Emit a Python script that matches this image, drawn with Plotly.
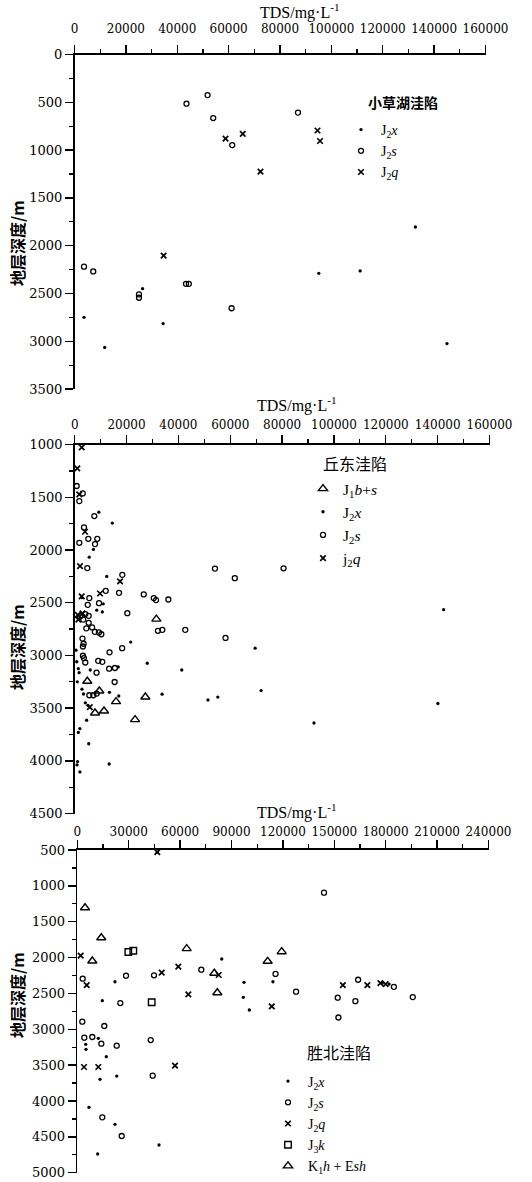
import plotly.graph_objects as go

# ===================== DATA =====================
# Panel 1: 小草湖洼陷  (TDS mg/L, depth m)
xc_j2x_tds = [26500, 3700, 11750, 34500, 95100, 111200, 132700, 145000]
xc_j2x_dep = [2450, 2750, 3065, 2815, 2290, 2265, 1805, 3025]
xc_j2s_tds = [43600, 51800, 54000, 87000, 61400, 3700, 7300, 25100, 25100, 43400, 44500, 61150]
xc_j2s_dep = [515, 425, 665, 608, 948, 2220, 2270, 2510, 2545, 2400, 2400, 2655]
xc_j2q_tds = [58800, 65500, 72400, 94600, 95600, 34700]
xc_j2q_dep = [880, 830, 1225, 795, 905, 2105]

# Panel 2: 丘东洼陷
qd_j1bs_tds = [31500, 4860, 9500, 15940, 27250, 23280, 7840, 11310]
qd_j1bs_dep = [2655, 3245, 3337, 3438, 3394, 3609, 3546, 3527]
qd_j2x_tds = [9300, 14500, 7200, 5600, 12350, 11000, 8500, 10650, 142300, 28000, 41300,
              51400, 55200, 71900, 33700, 140100, 92300, 69600, 21600, 17000, 1400, 5400,
              1100, 900, 2000, 13300, 1700, 2800, 3400, 4100, 5100, 6000, 1400, 2700,
              16800, 500, 800, 1000, 13400, 4600, 2000]
qd_j2x_dep = [1640, 1744, 1994, 2067, 2250, 2510, 2570, 2587, 2566, 3074, 3138,
              3423, 3395, 3333, 3368, 3456, 3641, 2931, 2873, 3385, 3731, 3838,
              4007, 4039, 4105, 4030, 3164, 3320, 3366, 3450, 3473, 3138, 3126, 2451,
              3109, 2950, 3060, 3250, 3350, 3615, 3694]
qd_j2s_tds = [770, 3090, 1780, 7570, 3590, 5250, 8720, 7840, 1780, 4860, 18370, 11970,
              17100, 26630, 30500, 31380, 36130, 5640, 5020, 9380, 20300, 54100, 61760,
              80560, 42650, 58170, 32100, 33800, 13430, 18300, 15400, 9070, 10650, 13280,
              15520, 8420, 3000, 3430, 3170, 3170, 3550, 4090, 2080, 4090, 5400, 3300,
              5400, 4480, 6720, 7760, 9340, 10270, 5640, 7180, 8490]
qd_j2s_dep = [1392, 1462, 1535, 1677, 1785, 1893, 1893, 1943, 1931, 2171, 2235, 2387,
              2406, 2421, 2456, 2475, 2469, 2456, 2520, 2504, 2599, 2176, 2267,
              2173, 2757, 2834, 2766, 2757, 2970, 2931, 3252, 3051, 3061, 3126,
              3119, 3164, 2840, 2889, 2915, 3003, 3025, 3067, 2630, 2607, 2624, 2660,
              2690, 2743, 2734, 2776, 2782, 2799, 3378, 3378, 3362]
qd_j2q_tds = [2700, 1000, 1780, 3980, 2050, 17500, 9770, 2700, 1200, 3000, 1400, 5800]
qd_j2q_dep = [1025, 1224, 1471, 1826, 2152, 2298, 2412, 2440, 2615, 2600, 2660, 3490]

# Panel 3: 胜北洼陷
sb_j2x_tds = [22000, 14590, 97300, 96900, 100400, 84300, 114200, 12260, 4900, 5080, 16930,
              13250, 47690, 11900, 23000, 6830, 22000, 46700, 178000, 182000]
sb_j2x_dep = [2337, 2601, 2345, 2554, 2731, 2020, 2337, 3126, 3210, 3279, 3382,
              3698, 4614, 4739, 3652, 4088, 4325, 530, 2356, 2370]
sb_j2s_tds = [3150, 28430, 44770, 72380, 25100, 2920, 15760, 4090, 8760, 14010, 23000,
              42840, 44010, 14590, 25910, 144000, 115700, 127700, 163900, 184800, 195800,
              152000, 162300, 152400]
sb_j2s_dep = [2295, 2253, 2247, 2169, 2634, 2894, 2954, 3117, 3108, 3201, 3229,
              3150, 3647, 4228, 4488, 1095, 2228, 2475, 2309, 2408, 2551,
              2560, 2608, 2836]
sb_j2q_tds = [46700, 1980, 5490, 49260, 58950, 82530, 64790, 113500, 155000, 169300,
              3910, 12260, 57030, 176900, 180000]
sb_j2q_dep = [530, 1974, 2383, 2211, 2127, 2243, 2512, 2680, 2384, 2384,
              3526, 3526, 3508, 2356, 2370]
sb_j3k_tds = [29770, 32690, 43430]
sb_j3k_dep = [1922, 1904, 2624]
sb_k1h_tds = [4490, 14000, 63860, 111100, 119300, 8760, 79970, 81720]
sb_k1h_dep = [1305, 1723, 1876, 2052, 1918, 2048, 2219, 2490]

x_ticks_a = [0, 20000, 40000, 60000, 80000, 100000, 120000, 140000, 160000]
x_ticks_c = [0, 30000, 60000, 90000, 120000, 150000, 180000, 210000, 240000]

# ===================== LAYOUT HELPERS =====================
W, H = 532, 1182
def fx(px): return px / W
def fy(py): return 1 - py / H

DOT = dict(symbol="circle", size=3.3, color="black")
CIR = dict(symbol="circle-open", size=5, color="black", line=dict(width=1.3, color="black"))
XQ = dict(symbol="x-thin-open", size=5.5, color="black", line=dict(width=1.7, color="black"))
SQ = dict(symbol="square-open", size=6.5, color="black", line=dict(width=1.4, color="black"))
TRI = dict(symbol="triangle-up-open", size=8, color="black", line=dict(width=1.4, color="black"))

fig = go.Figure()

def add(x, y, marker, name, xa, ya, leg):
    fig.add_trace(go.Scatter(x=x, y=y, mode="markers", marker=marker, name=name,
                             xaxis=xa, yaxis=ya, legend=leg, cliponaxis=False,
                             showlegend=True))

add(xc_j2x_tds, xc_j2x_dep, DOT, "J<sub>2</sub><i>x</i>", "x", "y", "legend")
add(xc_j2s_tds, xc_j2s_dep, CIR, "J<sub>2</sub><i>s</i>", "x", "y", "legend")
add(xc_j2q_tds, xc_j2q_dep, XQ, "J<sub>2</sub><i>q</i>", "x", "y", "legend")

add(qd_j1bs_tds, qd_j1bs_dep, TRI, "J<sub>1</sub><i>b</i>+<i>s</i>", "x2", "y2", "legend2")
add(qd_j2x_tds, qd_j2x_dep, DOT, "J<sub>2</sub><i>x</i>", "x2", "y2", "legend2")
add(qd_j2s_tds, qd_j2s_dep, CIR, "J<sub>2</sub><i>s</i>", "x2", "y2", "legend2")
add(qd_j2q_tds, qd_j2q_dep, XQ, "j<sub>2</sub><i>q</i>", "x2", "y2", "legend2")

add(sb_j2x_tds, sb_j2x_dep, DOT, "J<sub>2</sub><i>x</i>", "x3", "y3", "legend3")
add(sb_j2s_tds, sb_j2s_dep, CIR, "J<sub>2</sub><i>s</i>", "x3", "y3", "legend3")
add(sb_j2q_tds, sb_j2q_dep, XQ, "J<sub>2</sub><i>q</i>", "x3", "y3", "legend3")
add(sb_j3k_tds, sb_j3k_dep, SQ, "J<sub>3</sub><i>k</i>", "x3", "y3", "legend3")
add(sb_k1h_tds, sb_k1h_dep, TRI, "K<sub>1</sub><i>h</i> + E<i>sh</i>", "x3", "y3", "legend3")

TICKFONT_X = dict(family="DejaVu Serif", size=12, color="black")
TICKFONT_Y = dict(family="DejaVu Serif", size=13, color="black")

def xax(domain, rng, ticks, minor, anchor, standoff):
    return dict(domain=domain, range=rng, side="top", anchor=anchor,
                showline=True, linecolor="black", linewidth=1.6,
                ticks="outside", ticklen=8, tickwidth=1.4, tickcolor="black",
                tickvals=ticks, ticktext=[str(t) for t in ticks],
                minor=dict(dtick=minor, tick0=0, ticks="outside", ticklen=4,
                           tickwidth=1.2, tickcolor="black", showgrid=False),
                showgrid=False, zeroline=False, tickfont=TICKFONT_X, tickangle=0,
                ticklabelstandoff=standoff, automargin=False, fixedrange=True)

def yax(domain, rng, anchor):
    return dict(domain=domain, range=rng, anchor=anchor,
                showline=True, linecolor="black", linewidth=1.6,
                ticks="outside", ticklen=8, tickwidth=1.4, tickcolor="black",
                dtick=500, tick0=0,
                minor=dict(dtick=250, tick0=0, ticks="outside", ticklen=4,
                           tickwidth=1.2, tickcolor="black", showgrid=False),
                showgrid=False, zeroline=False, tickfont=TICKFONT_Y,
                automargin=False, fixedrange=True)

fig.update_layout(
    width=W, height=H, margin=dict(l=0, r=0, t=0, b=0),
    paper_bgcolor="white", plot_bgcolor="rgba(0,0,0,0)",
    xaxis=xax([fx(74.5), fx(485.5)], [0, 160000], x_ticks_a, 10000, "y", 7),
    yaxis=yax([fy(389), fy(54.5)], [3500, 0], "x"),
    xaxis2=xax([fx(74.7), fx(489.5)], [0, 160000], x_ticks_a, 10000, "y2", 1),
    yaxis2=yax([fy(813.5), fy(444.7)], [4500, 1000], "x2"),
    xaxis3=xax([fx(77.3), fx(488.5)], [0, 240000], x_ticks_c, 15000, "y3", 0),
    yaxis3=yax([fy(1172.7), fy(850)], [5000, 500], "x3"),
    legend=dict(x=fx(341), y=fy(114), xanchor="left", yanchor="top",
                bgcolor="rgba(0,0,0,0)", borderwidth=0,
                font=dict(family="Liberation Serif", size=14, color="black")),
    legend2=dict(x=fx(303), y=fy(472), xanchor="left", yanchor="top",
                 bgcolor="rgba(0,0,0,0)", borderwidth=0,
                 font=dict(family="Liberation Serif", size=15.5, color="black")),
    legend3=dict(x=fx(268), y=fy(1065.5), xanchor="left", yanchor="top",
                 bgcolor="rgba(0,0,0,0)", borderwidth=0,
                 font=dict(family="Liberation Serif", size=14, color="black")),
)

TITLE_FONT = dict(family="Liberation Serif", size=16, color="black")
CJK_FONT = dict(family="Noto Sans CJK SC", size=16, color="black")

annots = []
for (cx, cy) in [(300, 11), (297, 404), (297, 811)]:
    annots.append(dict(text="TDS/mg·L<sup>-1</sup>", x=fx(cx), y=fy(cy), xref="paper",
                       yref="paper", xanchor="center", yanchor="middle",
                       showarrow=False, font=TITLE_FONT))
for cy in [243, 647, 995]:
    annots.append(dict(text="<b>地层深度/m</b>", x=fx(17), y=fy(cy), xref="paper",
                       yref="paper", xanchor="center", yanchor="middle",
                       textangle=-90, showarrow=False, font=CJK_FONT))
annots.append(dict(text="<b>小草湖洼陷</b>", x=fx(403), y=fy(102), xref="paper", yref="paper",
                   xanchor="center", yanchor="middle", showarrow=False,
                   font=dict(family="Noto Sans CJK SC", size=14, color="black")))
annots.append(dict(text="丘东洼陷", x=fx(355), y=fy(463), xref="paper", yref="paper",
                   xanchor="center", yanchor="middle", showarrow=False,
                   font=dict(family="Noto Sans CJK SC", size=16, color="black")))
annots.append(dict(text="胜北洼陷", x=fx(339), y=fy(1052), xref="paper", yref="paper",
                   xanchor="center", yanchor="middle", showarrow=False,
                   font=dict(family="Noto Sans CJK SC", size=16, color="black")))
fig.update_layout(annotations=annots)

fig.write_html("out.html", config={"displayModeBar": False, "staticPlot": True},
               post_script="document.body.style.margin='0';document.body.style.padding='0';")
